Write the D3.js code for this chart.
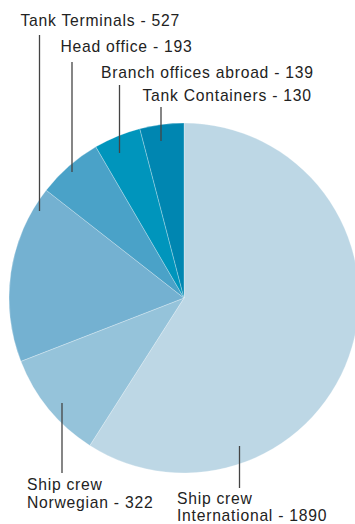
<!DOCTYPE html>
<html><head><meta charset="utf-8">
<script src="https://cdn.jsdelivr.net/npm/d3@7"></script>
<style>
html,body{margin:0;padding:0;background:#fff;overflow:hidden;}
svg{display:block;}
text{font-family:"Liberation Sans",Arial,Helvetica,sans-serif;fill:#222;}
</style></head>
<body>
<svg id="chart" width="355" height="524"></svg>
<script>
// Data
const categories = ["Ship crew International","Ship crew Norwegian","Tank Terminals","Head office","Branch offices abroad","Tank Containers"];
const values = [1890, 322, 527, 193, 139, 130];
const labelLines = [["Ship crew","International - 1890"],["Ship crew","Norwegian - 322"],["Tank Terminals - 527"],["Head office - 193"],["Branch offices abroad - 139"],["Tank Containers - 130"]];
const colors = ["#bdd7e5","#95c3da","#74b1d1","#4aa2c8","#0095bc","#0086b1"];

// Layout (annotation geometry)
const cx = 184, cy = 298, R = 175;
const labelLayout = [
  {tx:177, ty:504.3, lx:239.5, y1:446, y2:488, lh:16.8},
  {tx:27,  ty:489.5, lx:62, y1:403, y2:473, lh:18.3},
  {tx:20.5,ty:25.5, lx:39.5, y1:35, y2:211},
  {tx:60.5,ty:52, lx:72, y1:62, y2:172},
  {tx:101, ty:77.5, lx:119.5, y1:85, y2:153},
  {tx:142.5,ty:100.5, lx:161, y1:107, y2:141}
];

const svg = d3.select("#chart");
const pie = d3.pie().sort(null).value(d => d)(values);
const arc = d3.arc().innerRadius(0).outerRadius(R);

const g = svg.append("g").attr("transform", `translate(${cx},${cy})`);
g.selectAll("path").data(pie).join("path")
  .attr("d", arc)
  .attr("fill", (d,i) => colors[i])
  .attr("stroke", "rgba(255,255,255,0.45)")
  .attr("stroke-width", 0.6);

// leader lines
svg.selectAll("line.lead").data(labelLayout).join("line")
  .attr("class","lead")
  .attr("x1", d => d.lx).attr("x2", d => d.lx)
  .attr("y1", d => d.y1).attr("y2", d => d.y2)
  .attr("stroke", "#444").attr("stroke-width", 1.3);

// labels
const lab = svg.selectAll("text.lab").data(labelLines).join("text")
  .attr("class","lab")
  .attr("x", (d,i) => labelLayout[i].tx)
  .attr("y", (d,i) => labelLayout[i].ty)
  .style("font-size","15.7px")
  .style("letter-spacing","0.75px");
lab.selectAll("tspan").data((d,i) => d.map(s => ({s, i}))).join("tspan")
  .attr("x", d => labelLayout[d.i].tx)
  .attr("dy", (d,j) => j === 0 ? 0 : (labelLayout[d.i].lh || 18))
  .text(d => d.s);
</script>
</body></html>
